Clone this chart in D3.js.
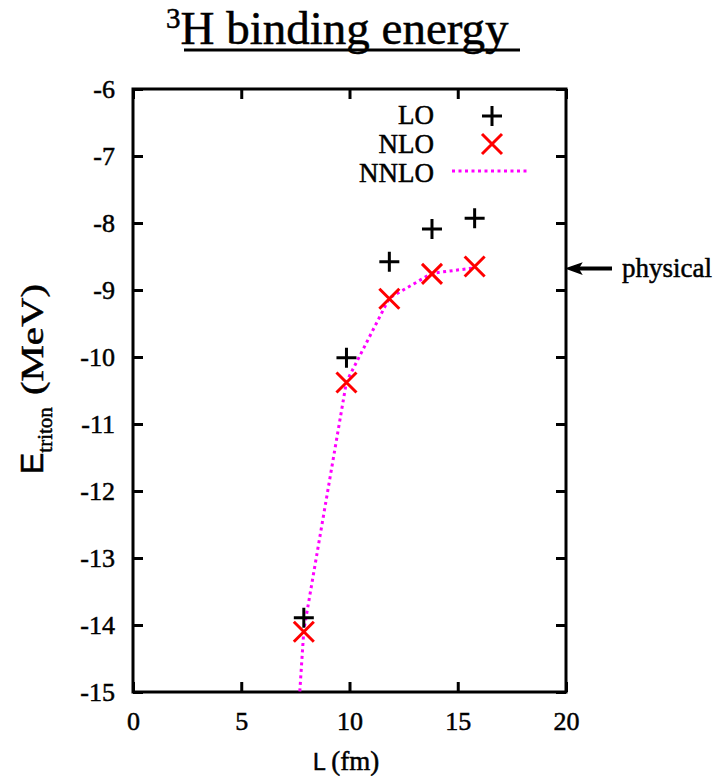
<!DOCTYPE html>
<html>
<head>
<meta charset="utf-8">
<script src="https://cdn.jsdelivr.net/npm/d3@7"></script>
<style>
  body { margin: 0; background: #fff; }
  svg { display: block; }
  svg text { font-family: "Liberation Serif", "Times New Roman", serif; }
</style>
</head>
<body>
<svg id="svg" width="720" height="780"></svg>
<script>
// box sizes L (fm) and triton energies (MeV)
const lengths = [7.89, 9.86, 11.84, 13.81, 15.78];
const loValues = [-13.89, -10.01, -8.58, -8.09, -7.93];
const nloValues = [-14.10, -10.38, -9.13, -8.76, -8.65];
const nnloLengths = [5.91, 7.89, 9.86, 11.84, 13.81, 15.78];
const nnloValues = [-23.8, -14.08, -10.37, -9.12, -8.75, -8.67];
const physicalValue = -8.68;

const xTicks = [0, 5, 10, 15, 20];
const yTicks = [-15, -14, -13, -12, -11, -10, -9, -8, -7, -6];
const legendLabels = ["LO", "NLO", "NNLO"];

const SERIF = '"Liberation Serif", "Times New Roman", serif';
const SANS = '"Liberation Sans", Arial, sans-serif';

const svg = d3.select("#svg");

const x = d3.scaleLinear().domain([0, 20]).range([133, 566]);
const y = d3.scaleLinear().domain([-15, -6]).range([692, 89]);

// gives the thin Times text a little more weight, like the original
function ink(sel) {
    sel.attr("fill", "#000").attr("stroke", "#000").attr("stroke-width", 0.5);
}

// title
const title = svg.append("text")
    .attr("x", 166)
    .attr("y", 44)
    .style("font-family", SERIF)
    .style("font-size", "47px")
    .call(ink);
title.append("tspan").style("font-size", "29px").attr("dy", -16).text("3");
title.append("tspan").attr("dy", 16).text("H binding energy");
svg.append("line")
    .attr("x1", 184).attr("x2", 520)
    .attr("y1", 50).attr("y2", 50)
    .attr("stroke", "#000").attr("stroke-width", 3);

// axes
const fmt = d => d3.format("d")(d).replace("−", "-");

const axLeft = svg.append("g")
    .attr("transform", `translate(${x(0)},0)`)
    .call(d3.axisLeft(y).tickValues(yTicks).tickSizeInner(-10).tickSizeOuter(0).tickPadding(18).tickFormat(fmt));
const axRight = svg.append("g")
    .attr("transform", `translate(${x(20)},0)`)
    .call(d3.axisRight(y).tickValues(yTicks).tickSizeInner(-10).tickSizeOuter(0).tickFormat(""));
const axBottom = svg.append("g")
    .attr("transform", `translate(0,${y(-15)})`)
    .call(d3.axisBottom(x).tickValues(xTicks).tickSizeInner(-10).tickSizeOuter(0).tickPadding(20).tickFormat(fmt));
const axTop = svg.append("g")
    .attr("transform", `translate(0,${y(-6)})`)
    .call(d3.axisTop(x).tickValues(xTicks).tickSizeInner(-10).tickSizeOuter(0).tickFormat(""));

[axLeft, axRight, axBottom, axTop].forEach(g => {
    g.select(".domain").remove();
    g.attr("font-family", SERIF).attr("font-size", 26);
    g.selectAll(".tick line").attr("stroke", "#000").attr("stroke-width", 3);
    g.selectAll("text")
        .style("font-family", SERIF)
        .style("font-size", "26px")
        .call(ink);
});

svg.append("rect")
    .attr("x", x(0)).attr("y", y(-6))
    .attr("width", x(20) - x(0)).attr("height", y(-15) - y(-6))
    .attr("fill", "none").attr("stroke", "#000").attr("stroke-width", 3);

// axis titles
const xt = svg.append("text").attr("x", 313).attr("y", 770).call(ink);
xt.append("tspan").style("font-family", SANS).style("font-size", "23px").text("L ");
xt.append("tspan").style("font-family", SERIF).style("font-size", "27px").text("(fm)");

const yt = svg.append("text").attr("transform", "translate(43,474) rotate(-90)").call(ink);
yt.append("tspan").style("font-family", SANS).style("font-size", "32px").text("E");
yt.append("tspan").style("font-family", SERIF).style("font-size", "21px").attr("dy", 9).text("triton");
svg.append("text")
    .attr("transform", "translate(43,395) rotate(-90)")
    .style("font-family", SERIF)
    .style("font-size", "32px")
    .attr("textLength", 111)
    .attr("lengthAdjust", "spacingAndGlyphs")
    .text("(MeV)")
    .call(ink);

// clip for the curve
svg.append("clipPath").attr("id", "clip")
    .append("rect")
    .attr("x", x(0)).attr("y", y(-6))
    .attr("width", x(20) - x(0)).attr("height", y(-15) - y(-6));

const line = d3.line()
    .x((d, i) => x(nnloLengths[i]))
    .y(d => y(d));

svg.append("path")
    .attr("clip-path", "url(#clip)")
    .attr("d", line(nnloValues))
    .attr("fill", "none")
    .attr("stroke", "#ff00ff")
    .attr("stroke-width", 3)
    .attr("stroke-dasharray", "3,3.5");

const plus = "M-10,0H10M0,-10V10";
const cross = "M-10,-10L10,10M-10,10L10,-10";

svg.append("g").selectAll("path")
    .data(loValues)
    .enter()
    .append("path")
    .attr("transform", (d, i) => `translate(${x(lengths[i])},${y(d)})`)
    .attr("d", plus)
    .attr("stroke", "#000")
    .attr("stroke-width", 3);

svg.append("g").selectAll("path")
    .data(nloValues)
    .enter()
    .append("path")
    .attr("transform", (d, i) => `translate(${x(lengths[i])},${y(d)})`)
    .attr("d", cross)
    .attr("stroke", "#ff0000")
    .attr("stroke-width", 3);

// legend
const legend = svg.append("g");
legend.selectAll("text")
    .data(legendLabels)
    .enter()
    .append("text")
    .style("font-family", SERIF)
    .style("font-size", "27px")
    .attr("text-anchor", "end")
    .attr("x", 434)
    .attr("y", (d, i) => 124 + i * 29)
    .text(d => d)
    .call(ink);
legend.append("path")
    .attr("transform", "translate(492,116)")
    .attr("d", plus)
    .attr("stroke", "#000").attr("stroke-width", 3);
legend.append("path")
    .attr("transform", "translate(492,144)")
    .attr("d", cross)
    .attr("stroke", "#ff0000").attr("stroke-width", 3);
legend.append("line")
    .attr("x1", 452).attr("x2", 530)
    .attr("y1", 171).attr("y2", 171)
    .attr("stroke", "#ff00ff")
    .attr("stroke-width", 3)
    .attr("stroke-dasharray", "3,3.5");

// physical arrow
const py = y(physicalValue);
svg.append("line")
    .attr("x1", x(20) + 12).attr("x2", x(20) + 46)
    .attr("y1", py).attr("y2", py)
    .attr("stroke", "#000").attr("stroke-width", 4);
svg.append("path")
    .attr("d", `M${x(20) + 1},${py}L${x(20) + 15},${py - 5}L${x(20) + 12},${py}L${x(20) + 15},${py + 5}Z`)
    .attr("fill", "#000").attr("stroke", "#000").attr("stroke-width", 1.5);
svg.append("text")
    .style("font-family", SERIF)
    .style("font-size", "27px")
    .attr("x", 622)
    .attr("y", py + 8)
    .text("physical")
    .call(ink);
</script>
</body>
</html>
